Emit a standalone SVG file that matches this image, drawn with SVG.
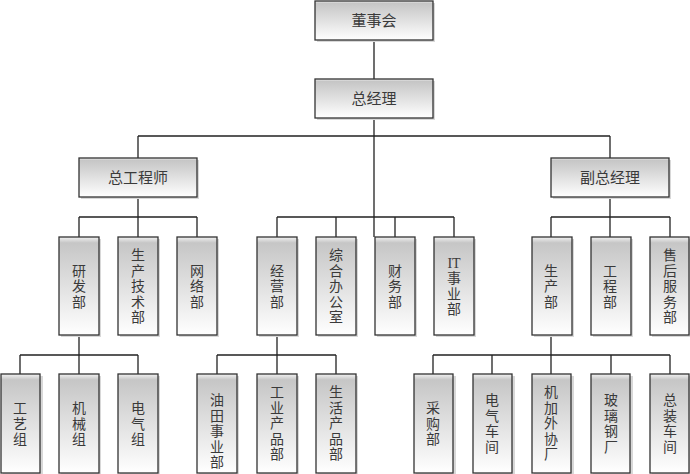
<svg xmlns="http://www.w3.org/2000/svg" width="690" height="474" viewBox="0 0 690 474">
<defs>
<linearGradient id="g" x1="0" y1="0" x2="0" y2="1">
<stop offset="0" stop-color="#f2f2f2"/>
<stop offset="0.06" stop-color="#c6c6c6"/>
<stop offset="1" stop-color="#ffffff"/>
</linearGradient>
<style>
.box{fill:url(#g);stroke:#333;stroke-width:1.3}
.sh{fill:#d8d8d8}
.t{font-family:"Liberation Serif","Noto Sans CJK SC",serif;font-size:14px;fill:#3a3a3a;text-anchor:middle;dominant-baseline:central}
.h{font-size:15px}
.c{fill:none;stroke:#222;stroke-width:1.3}
</style>
</defs>
<rect width="690" height="474" fill="#fff"/>
<g id="connectors">
<path class="c" d="M374,40V79M374,118V237M138,136H610M138,136V158M610,136V158
M138,197V217M79,217H197M79,217V237M138,217V237M197,217V237
M277,217H454M277,217V237M336,217V237M395,217V237M454,217V237
M610,197V217M551,217H670M551,217V237M610,217V237M670,217V237
M79,335V355M20,355H138M20,355V374M79,355V374M138,355V374
M277,335V355M217,355H336M217,355V374M277,355V374M336,355V374
M551,335V355M433,355H670M433,355V374M492,355V374M551,355V374M611,355V374M670,355V374"/>
</g>
<g id="n_dsh"><rect class="sh" x="317" y="3" width="118" height="39"/><rect class="box" x="315" y="1" width="118" height="39"/><text class="t h" x="374" y="21">董事会</text></g>
<g id="n_zjl"><rect class="sh" x="317" y="81" width="118" height="39"/><rect class="box" x="315" y="79" width="118" height="39"/><text class="t h" x="374" y="99">总经理</text></g>
<g id="n_zgcs"><rect class="sh" x="81" y="160" width="118" height="39"/><rect class="box" x="79" y="158" width="118" height="39"/><text class="t h" x="138" y="178">总工程师</text></g>
<g id="n_fzjl"><rect class="sh" x="553" y="160" width="118" height="39"/><rect class="box" x="551" y="158" width="118" height="39"/><text class="t h" x="610" y="178">副总经理</text></g>

<g id="n_yfb"><rect class="sh" x="61" y="239" width="40" height="98"/><rect class="box" x="59" y="237" width="40" height="98"/><text class="t" x="79"><tspan x="79" y="270.5">研</tspan><tspan x="79" y="286">发</tspan><tspan x="79" y="301.5">部</tspan></text></g>
<g id="n_scjsb"><rect class="sh" x="120" y="239" width="40" height="98"/><rect class="box" x="118" y="237" width="40" height="98"/><text class="t" x="138"><tspan x="138" y="255">生</tspan><tspan x="138" y="270.5">产</tspan><tspan x="138" y="286">技</tspan><tspan x="138" y="301.5">术</tspan><tspan x="138" y="317">部</tspan></text></g>
<g id="n_wlb"><rect class="sh" x="179" y="239" width="40" height="98"/><rect class="box" x="177" y="237" width="40" height="98"/><text class="t" x="197"><tspan x="197" y="270.5">网</tspan><tspan x="197" y="286">络</tspan><tspan x="197" y="301.5">部</tspan></text></g>

<g id="n_jyb"><rect class="sh" x="259" y="239" width="40" height="98"/><rect class="box" x="257" y="237" width="40" height="98"/><text class="t" x="277"><tspan x="277" y="270.5">经</tspan><tspan x="277" y="286">营</tspan><tspan x="277" y="301.5">部</tspan></text></g>
<g id="n_zhbgs"><rect class="sh" x="318" y="239" width="40" height="98"/><rect class="box" x="316" y="237" width="40" height="98"/><text class="t" x="336"><tspan x="336" y="255">综</tspan><tspan x="336" y="270.5">合</tspan><tspan x="336" y="286">办</tspan><tspan x="336" y="301.5">公</tspan><tspan x="336" y="317">室</tspan></text></g>
<g id="n_cwb"><rect class="sh" x="377" y="239" width="40" height="98"/><rect class="box" x="375" y="237" width="40" height="98"/><text class="t" x="395"><tspan x="395" y="270.5">财</tspan><tspan x="395" y="286">务</tspan><tspan x="395" y="301.5">部</tspan></text></g>
<g id="n_itsyb"><rect class="sh" x="436" y="239" width="40" height="98"/><rect class="box" x="434" y="237" width="40" height="98"/><text class="t" x="454"><tspan x="454" y="262.5">IT</tspan><tspan x="454" y="278">事</tspan><tspan x="454" y="293.5">业</tspan><tspan x="454" y="309">部</tspan></text></g>

<g id="n_scb"><rect class="sh" x="534" y="239" width="40" height="98"/><rect class="box" x="532" y="237" width="40" height="98"/><text class="t" x="551"><tspan x="551" y="270.5">生</tspan><tspan x="551" y="286">产</tspan><tspan x="551" y="301.5">部</tspan></text></g>
<g id="n_gcb"><rect class="sh" x="593" y="239" width="40" height="98"/><rect class="box" x="591" y="237" width="40" height="98"/><text class="t" x="610"><tspan x="610" y="270.5">工</tspan><tspan x="610" y="286">程</tspan><tspan x="610" y="301.5">部</tspan></text></g>
<g id="n_shfwb"><rect class="sh" x="652" y="239" width="38" height="98"/><rect class="box" x="650" y="237" width="39" height="98"/><text class="t" x="670"><tspan x="670" y="255">售</tspan><tspan x="670" y="270.5">后</tspan><tspan x="670" y="286">服</tspan><tspan x="670" y="301.5">务</tspan><tspan x="670" y="317">部</tspan></text></g>

<g id="n_gyz"><rect class="sh" x="3" y="376" width="40" height="98"/><rect class="box" x="1" y="374" width="39" height="99"/><text class="t" x="20"><tspan x="20" y="408">工</tspan><tspan x="20" y="423.5">艺</tspan><tspan x="20" y="439">组</tspan></text></g>
<g id="n_jxz"><rect class="sh" x="61" y="376" width="40" height="98"/><rect class="box" x="59" y="374" width="40" height="99"/><text class="t" x="79"><tspan x="79" y="408">机</tspan><tspan x="79" y="423.5">械</tspan><tspan x="79" y="439">组</tspan></text></g>
<g id="n_dqz"><rect class="sh" x="120" y="376" width="40" height="98"/><rect class="box" x="118" y="374" width="40" height="99"/><text class="t" x="138"><tspan x="138" y="408">电</tspan><tspan x="138" y="423.5">气</tspan><tspan x="138" y="439">组</tspan></text></g>

<g id="n_ytsyb"><rect class="sh" x="199" y="376" width="40" height="98"/><rect class="box" x="197" y="374" width="40" height="99"/><text class="t" x="217"><tspan x="217" y="400">油</tspan><tspan x="217" y="415.5">田</tspan><tspan x="217" y="431">事</tspan><tspan x="217" y="446.5">业</tspan><tspan x="217" y="462">部</tspan></text></g>
<g id="n_gycpb"><rect class="sh" x="259" y="376" width="40" height="98"/><rect class="box" x="257" y="374" width="40" height="99"/><text class="t" x="277"><tspan x="277" y="392">工</tspan><tspan x="277" y="407.5">业</tspan><tspan x="277" y="423">产</tspan><tspan x="277" y="438.5">品</tspan><tspan x="277" y="454">部</tspan></text></g>
<g id="n_shcpb"><rect class="sh" x="318" y="376" width="40" height="98"/><rect class="box" x="316" y="374" width="40" height="99"/><text class="t" x="336"><tspan x="336" y="392">生</tspan><tspan x="336" y="407.5">活</tspan><tspan x="336" y="423">产</tspan><tspan x="336" y="438.5">品</tspan><tspan x="336" y="454">部</tspan></text></g>

<g id="n_cgb"><rect class="sh" x="416" y="376" width="40" height="98"/><rect class="box" x="414" y="374" width="39" height="99"/><text class="t" x="433"><tspan x="433" y="408">采</tspan><tspan x="433" y="423.5">购</tspan><tspan x="433" y="439">部</tspan></text></g>
<g id="n_dqcj"><rect class="sh" x="475" y="376" width="40" height="98"/><rect class="box" x="473" y="374" width="39" height="99"/><text class="t" x="492"><tspan x="492" y="400">电</tspan><tspan x="492" y="415.5">气</tspan><tspan x="492" y="431">车</tspan><tspan x="492" y="446.5">间</tspan></text></g>
<g id="n_jjwxc"><rect class="sh" x="534" y="376" width="40" height="98"/><rect class="box" x="532" y="374" width="39" height="99"/><text class="t" x="551"><tspan x="551" y="392">机</tspan><tspan x="551" y="407.5">加</tspan><tspan x="551" y="423">外</tspan><tspan x="551" y="438.5">协</tspan><tspan x="551" y="454">厂</tspan></text></g>
<g id="n_blgc"><rect class="sh" x="593" y="376" width="40" height="98"/><rect class="box" x="591" y="374" width="39" height="99"/><text class="t" x="611"><tspan x="611" y="400">玻</tspan><tspan x="611" y="415.5">璃</tspan><tspan x="611" y="431">钢</tspan><tspan x="611" y="446.5">厂</tspan></text></g>
<g id="n_zzcj"><rect class="sh" x="652" y="376" width="38" height="98"/><rect class="box" x="650" y="374" width="39" height="99"/><text class="t" x="670"><tspan x="670" y="400">总</tspan><tspan x="670" y="415.5">装</tspan><tspan x="670" y="431">车</tspan><tspan x="670" y="446.5">间</tspan></text></g>
</svg>
